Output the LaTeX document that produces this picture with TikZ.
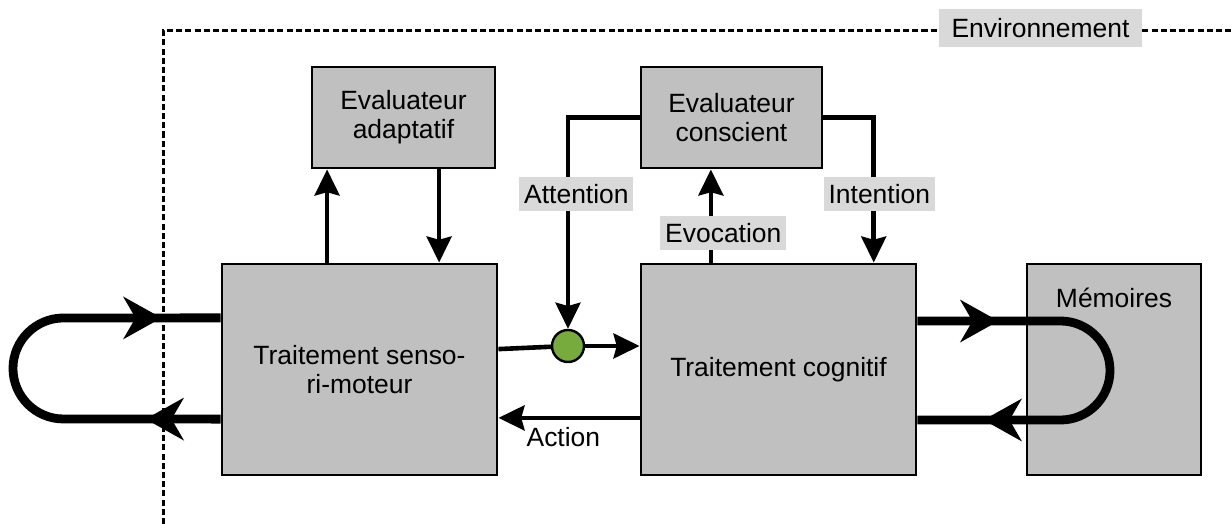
\documentclass[tikz,border=0pt]{standalone}
\usepackage{fontspec}
\setmainfont{Liberation Sans}
\usetikzlibrary{arrows.meta,decorations.markings}

\definecolor{boxgray}{HTML}{C0C0C0}
\definecolor{lblgray}{HTML}{D9D9D9}
\definecolor{obsgreen}{HTML}{78AB3E}

\tikzset{
  bloc/.style={draw, line width=0.07cm, fill=boxgray, align=center},
  lbl/.style={fill=lblgray, inner xsep=0.12cm, minimum height=0.85cm},
  fl/.style={line width=0.115cm, -{Stealth[length=0.65cm,width=0.62cm,inset=0.08cm]}},
  trait/.style={line width=0.115cm},
  boucle/.style={line width=0.22cm, postaction={decorate}}
}

\begin{document}
\begin{tikzpicture}[x=0.025cm, y=0.025cm,
  every node/.style={font=\fontsize{18.8}{20.5}\selectfont}]
  \useasboundingbox (0,0) rectangle (1232,524);

  % environnement
  \draw[line width=0.075cm, dash pattern=on 0.15cm off 0.08cm] (163,0) |- (1232,493);
  \node[lbl, minimum width=5.08cm, minimum height=0.95cm] (env) at (1040.5,496) {Environnement};

  % blocs
  \node[bloc, minimum width=4.575cm, minimum height=2.525cm] (adapt) at (403.5,406.5) {Evaluateur\\adaptatif};
  \node[bloc, minimum width=4.525cm, minimum height=2.525cm] (consc) at (731.5,406.5) {Evaluateur\\conscient};
  \node[bloc, minimum width=6.875cm, minimum height=5.275cm] (senso) at (359.5,154.5) {Traitement senso-\\ri-moteur};
  \node[bloc, minimum width=6.875cm, minimum height=5.275cm] (cog) at (778.5,154.5) {Traitement cognitif};
  \node[bloc, minimum width=4.35cm, minimum height=5.275cm,
    label={[anchor=north, yshift=-0.5cm]north:Mémoires}] (mem) at (1114,154.5) {};
  \node[circle, draw, line width=0.06cm, fill=obsgreen, minimum size=0.8cm, inner sep=0] (obs) at (568,178) {};

  % liaisons
  \draw[fl] ([xshift=-0.81cm]senso.north) -- ([xshift=-0.81cm]senso.north |- adapt.south);
  \draw[fl] ([xshift=0.89cm]adapt.south) -- ([xshift=0.89cm]adapt.south |- senso.north);
  \draw[fl] (consc.west) -| (obs.north) node[lbl, pos=0.68, xshift=0.21cm] {Attention};
  \draw[fl] (consc.east) -| ([xshift=2.38cm]cog.north) node[lbl, pos=0.765, xshift=0.14cm] {Intention};
  \draw[fl] ([xshift=-1.69cm]cog.north) -- ([xshift=-1.69cm]cog.north |- consc.south)
    node[lbl, pos=0.32, xshift=0.31cm] {Evocation};
  \draw[trait] ([yshift=0.51cm]senso.east) -- (obs);
  \draw[fl] (obs) -- (obs -| cog.west);
  \draw[fl] ([yshift=-1.21cm]cog.west) -- ([yshift=-1.21cm]senso.east)
    node[pos=0.54, below=2pt] {Action};

  % boucles
  \draw[boucle, decoration={markings,
      mark=at position 1.875cm with {\arrow{Stealth[length=0.95cm,width=1.05cm,inset=0.3cm]}},
      mark=at position -1.475cm with {\arrow{Stealth[length=0.95cm,width=1.05cm,inset=0.3cm]}}}]
    ([yshift=-1.24cm]senso.west) -- (63.5,105) arc[start angle=270, end angle=90, radius=1.2625cm]
    -- ([yshift=1.29cm]senso.west);
  \draw[boucle, decoration={markings,
      mark=at position 2.025cm with {\arrow{Stealth[length=0.95cm,width=1.05cm,inset=0.3cm]}},
      mark=at position -1.65cm with {\arrow{Stealth[length=0.95cm,width=1.05cm,inset=0.3cm]}}}]
    ([yshift=1.21cm]cog.east) -- (1060.5,203) arc[start angle=90, end angle=-90, radius=1.2375cm]
    -- ([yshift=-1.26cm]cog.east);
\end{tikzpicture}
\end{document}
